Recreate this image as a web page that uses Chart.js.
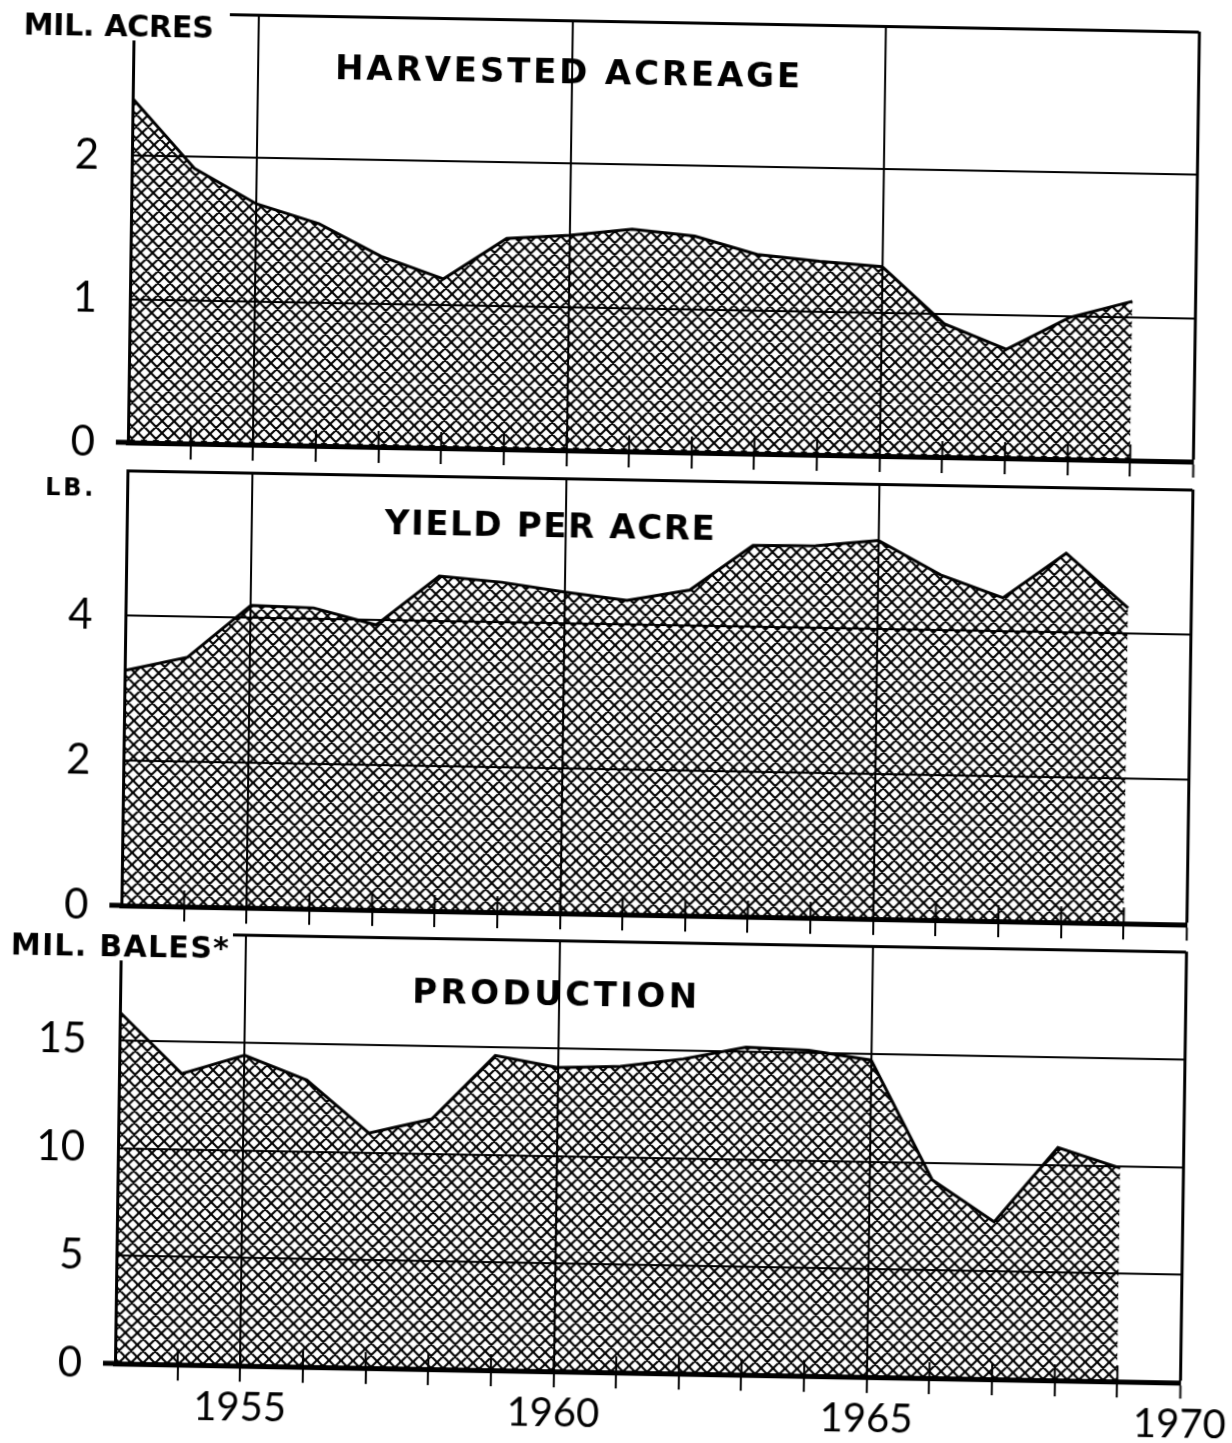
<!DOCTYPE html>
<html>
<head>
<meta charset="utf-8">
<script src="https://cdn.jsdelivr.net/npm/chart.js@4.4.1/dist/chart.umd.min.js"></script>
<style>
  html, body { margin: 0; padding: 0; background: #fff; overflow: hidden; }
  /* the scan is slightly sheared, so the whole sheet is too */
  #sheet { position: relative; width: 1232px; height: 1443px; transform-origin: 0 0;
           transform: matrix(1, 0.018, -0.014, 1, 0, 0); }
  #sheet canvas { position: absolute; left: 0; top: -50px; }
</style>
</head>
<body>
<div id="sheet">
  <canvas id="acreage" width="1300" height="1500"></canvas>
  <canvas id="yield" width="1300" height="1500"></canvas>
  <canvas id="production" width="1300" height="1500"></canvas>
</div>
<script>
const years = [1953, 1954, 1955, 1956, 1957, 1958, 1959, 1960, 1961, 1962, 1963, 1964, 1965, 1966, 1967, 1968, 1969];
const acreage = [2.40, 1.92, 1.68, 1.55, 1.33, 1.18, 1.47, 1.50, 1.55, 1.51, 1.39, 1.35, 1.32, 0.93, 0.76, 0.99, 1.11];
const yieldPerAcre = [3.24, 3.44, 4.17, 4.15, 3.93, 4.62, 4.55, 4.43, 4.33, 4.49, 5.12, 5.13, 5.22, 4.76, 4.46, 5.09, 4.35];
const production = [16.3, 13.5, 14.4, 13.3, 10.9, 11.6, 14.6, 14.1, 14.2, 14.6, 15.2, 15.1, 14.7, 9.2, 7.3, 10.8, 9.9];
const yearLabels = [1955, 1960, 1965, 1970];

const OFF = 50, W = 1300, H = 1500, RIGHT = 1199, LEFT = 134;

function crossHatch() {
  const s = 12, c = document.createElement('canvas');
  c.width = s; c.height = s;
  const g = c.getContext('2d');
  g.strokeStyle = '#000';
  g.lineWidth = 2.1;
  g.beginPath();
  for (const k of [-s, 0, s]) {
    g.moveTo(k, 0); g.lineTo(k + s, s);
    g.moveTo(k + s, 0); g.lineTo(k, s);
  }
  g.stroke();
  return g.createPattern(c, 'repeat');
}
const hatch = crossHatch();

// draw text stretched by letter spacing to a given width
function spacedText(ctx, t) {
  ctx.font = t.font;
  ctx.letterSpacing = '0px';
  const w = ctx.measureText(t.text).width;
  const sp = (t.width - w) / (t.text.length - 1);
  ctx.letterSpacing = sp + 'px';
  ctx.textAlign = 'left';
  ctx.textBaseline = 'alphabetic';
  ctx.fillText(t.text, t.left, t.base + OFF);
  ctx.letterSpacing = '0px';
}

const panelDecor = {
  id: 'panelDecor',
  afterDraw(chart, args, opts) {
    const { ctx, chartArea: a, scales: { x } } = chart;
    ctx.save();
    ctx.strokeStyle = '#000';
    ctx.lineWidth = 2;
    ctx.beginPath();
    for (let yr = x.min + 1; yr < x.max; yr++) {
      const px = x.getPixelForValue(yr);
      ctx.moveTo(px, a.bottom);
      ctx.lineTo(px, a.bottom - 16);
    }
    ctx.stroke();
    ctx.lineWidth = 5;
    ctx.beginPath();
    ctx.moveTo(a.left - 12, a.bottom);
    ctx.lineTo(a.left, a.bottom);
    ctx.stroke();
    if (opts.clear) {
      const [cx, cy, cw, ch] = opts.clear;
      ctx.fillStyle = '#fff';
      ctx.fillRect(cx, cy + OFF, cw, ch);
    }
    ctx.fillStyle = '#000';
    spacedText(ctx, opts.unit);
    spacedText(ctx, opts.title);
    ctx.restore();
  }
};

function panel(id, values, yMax, yStep, top, bottom, xHeight, showYears, decor) {
  new Chart(document.getElementById(id), {
    type: 'line',
    data: {
      datasets: [{
        data: years.map((yr, i) => ({ x: yr, y: values[i] })),
        fill: 'origin',
        backgroundColor: hatch,
        borderColor: '#000',
        borderWidth: 3,
        pointRadius: 0,
        tension: 0
      }]
    },
    options: {
      responsive: false,
      animation: false,
      layout: { padding: { left: 0, right: W - RIGHT, top: top + OFF, bottom: H - bottom - OFF - xHeight } },
      plugins: { legend: { display: false }, tooltip: { enabled: false }, panelDecor: decor },
      scales: {
        x: {
          type: 'linear', min: 1953, max: 1970, z: 1,
          grid: {
            color: c => (c.tick && c.tick.value % 5 === 0) ? '#000' : 'rgba(0,0,0,0)',
            lineWidth: c => (c.tick && c.tick.value === 1970) ? 3 : 2,
            tickColor: c => (c.tick && c.tick.value === 1953) ? 'rgba(0,0,0,0)' : '#000',
            tickLength: 16, tickWidth: 2
          },
          border: { display: true, color: '#000', width: 5 },
          ticks: {
            stepSize: 1, autoSkip: false, maxRotation: 0, padding: 2, color: '#000',
            font: { family: 'Lato', size: 40 },
            callback: v => (showYears && yearLabels.includes(v)) ? String(v) : ''
          },
          afterFit: s => { s.height = xHeight; }
        },
        y: {
          min: 0, max: yMax, z: 1,
          grid: { color: '#000', lineWidth: c => (c.tick && c.tick.value === yMax) ? 3 : 2, drawTicks: false },
          border: { display: true, color: '#000', width: 3 },
          ticks: {
            stepSize: yStep, padding: 33, color: '#000',
            font: { family: 'Lato', size: 42 },
            callback: v => v === yMax ? '' : String(v)
          },
          afterFit: s => { s.width = LEFT; }
        }
      }
    },
    plugins: [panelDecor]
  });
}

panel('acreage', acreage, 3, 1, 10, 440, 20, false, {
  clear: [0, -10, 230, 48],
  unit: { text: 'MIL. ACRES', font: 'bold 30px "DejaVu Sans"', left: 24, base: 34, width: 190 },
  title: { text: 'HARVESTED ACREAGE', font: 'bold 34px "DejaVu Sans"', left: 336, base: 73, width: 465 }
});
panel('yield', yieldPerAcre, 6, 2, 468, 903, 20, false, {
  unit: { text: 'LB.', font: 'bold 24px "DejaVu Sans"', left: 52, base: 494, width: 48 },
  title: { text: 'YIELD PER ACRE', font: 'bold 34px "DejaVu Sans"', left: 392, base: 527, width: 330 }
});
panel('production', production, 20, 5, 930, 1361, 82, true, {
  clear: [0, 918, 246, 40],
  unit: { text: 'MIL. BALES*', font: 'bold 30px "DejaVu Sans"', left: 24, base: 954, width: 218 },
  title: { text: 'PRODUCTION', font: 'bold 34px "DejaVu Sans"', left: 426, base: 995, width: 285 }
});
</script>
</body>
</html>
